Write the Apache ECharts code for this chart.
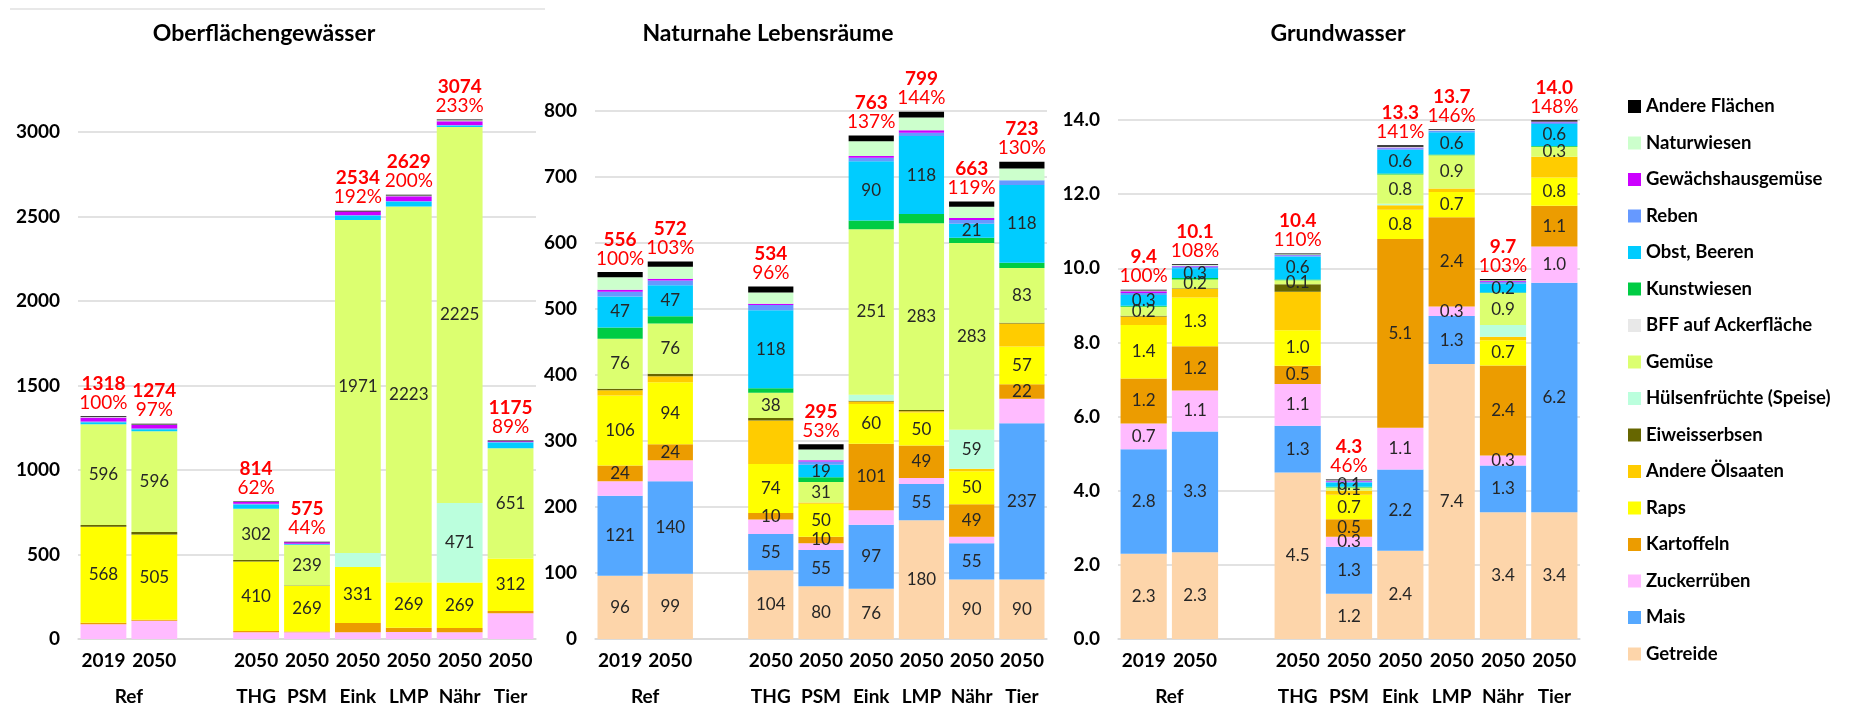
<!DOCTYPE html>
<html>
<head>
<meta charset="utf-8">
<script src="https://cdn.jsdelivr.net/npm/echarts@6/dist/echarts.min.js"></script>
<style>
  html, body { margin: 0; padding: 0; background: #fff; }
  #chart { width: 1865px; height: 707px; }
</style>
</head>
<body>
<div id="chart"></div>
<script>
// Kulturen, von unten nach oben gestapelt
const crops = ['Getreide', 'Mais', 'Zuckerrüben', 'Kartoffeln', 'Raps', 'Andere Ölsaaten',
  'Eiweisserbsen', 'Hülsenfrüchte (Speise)', 'Gemüse', 'BFF auf Ackerfläche', 'Kunstwiesen',
  'Obst, Beeren', 'Reben', 'Gewächshausgemüse', 'Naturwiesen', 'Andere Flächen'];
const cropColors = ['#fdd5aa', '#55a8ff', '#ffbbff', '#ec9c00', '#ffff00', '#ffcc00',
  '#666600', '#bbffdd', '#dcff70', '#e8e8e8', '#00cc44',
  '#00ccff', '#6699ff', '#cc00ff', '#ccffcc', '#000000'];

// x-Achse: 2019, 2050, Lücke, 6 Szenarien
const yearLabels = ['2019', '2050', '', '2050', '2050', '2050', '2050', '2050', '2050'];
const groupLabels = ['', '', 'Ref', '', '', '', '', 'THG', '', 'PSM', '', 'Eink', '', 'LMP', '', 'Nähr', '', 'Tier', ''];

// Oberflächengewässer (Zeilen = crops, Spalten = 2019, 2050, THG, PSM, Eink, LMP, Nähr, Tier)
const owValues = [
  [0, 0, 0, 0, 0, 0, 0, 0],
  [0, 0, 0, 0, 0, 0, 0, 0],
  [88, 108, 40, 40, 40, 42, 40, 153],
  [8, 6, 8, 5, 55, 25, 25, 12],
  [568, 505, 410, 269, 331, 269, 269, 312],
  [0, 0, 0, 0, 0, 0, 0, 0],
  [10, 14, 10, 3, 0, 0, 0, 0],
  [0, 0, 0, 0, 83, 0, 471, 0],
  [596, 596, 302, 239, 1971, 2223, 2225, 651],
  [0, 0, 0, 0, 0, 0, 0, 0],
  [0, 0, 0, 0, 0, 0, 0, 0],
  [12, 12, 26, 5, 24, 28, 8, 34],
  [5, 4, 5, 3, 5, 5, 4, 3],
  [24, 22, 9, 8, 20, 28, 22, 5],
  [2, 2, 0, 0, 0, 4, 5, 0],
  [5, 5, 4, 3, 5, 5, 5, 5]
];
const owTotals = ['1318', '1274', '814', '575', '2534', '2629', '3074', '1175'];
const owPercent = ['100%', '97%', '62%', '44%', '192%', '200%', '233%', '89%'];

// Naturnahe Lebensräume
const nlValues = [
  [96, 99, 104, 80, 76, 180, 90, 90],
  [121, 140, 55, 55, 97, 55, 55, 237],
  [22, 32, 22, 10, 22, 9, 10, 37],
  [24, 24, 10, 10, 101, 49, 49, 22],
  [106, 94, 74, 50, 60, 50, 50, 57],
  [8, 9, 66, 2, 4, 2, 4, 35],
  [2, 4, 4, 0, 1, 2, 0, 1],
  [0, 0, 0, 0, 9, 0, 59, 0],
  [76, 76, 38, 31, 251, 283, 283, 83],
  [0, 0, 0, 0, 0, 0, 0, 0],
  [17, 11, 7, 7, 13, 14, 8, 8],
  [47, 47, 118, 19, 90, 118, 21, 118],
  [7, 7, 8, 5, 5, 5, 6, 7],
  [3, 3, 2, 2, 3, 4, 3, 0],
  [19, 18, 17, 16, 22, 19, 17, 18],
  [8, 8, 9, 8, 9, 9, 8, 10]
];
const nlTotals = ['556', '572', '534', '295', '763', '799', '663', '723'];
const nlPercent = ['100%', '103%', '96%', '53%', '137%', '144%', '119%', '130%'];

// Grundwasser
const gwValues = [
  [2.3, 2.34, 4.49, 1.22, 2.38, 7.42, 3.42, 3.42],
  [2.82, 3.26, 1.26, 1.27, 2.19, 1.29, 1.26, 6.19],
  [0.69, 1.1, 1.13, 0.27, 1.13, 0.26, 0.27, 0.98],
  [1.22, 1.2, 0.49, 0.47, 5.09, 2.41, 2.43, 1.1],
  [1.44, 1.31, 0.96, 0.66, 0.79, 0.68, 0.68, 0.76],
  [0.23, 0.24, 1.04, 0.11, 0.12, 0.09, 0.09, 0.56],
  [0.02, 0.01, 0.2, 0, 0, 0, 0, 0],
  [0, 0, 0, 0, 0.04, 0, 0.32, 0],
  [0.24, 0.24, 0.11, 0.09, 0.79, 0.9, 0.86, 0.27],
  [0, 0, 0, 0, 0, 0, 0, 0],
  [0.03, 0.04, 0.02, 0.02, 0.03, 0.02, 0.02, 0.02],
  [0.29, 0.26, 0.62, 0.11, 0.64, 0.6, 0.23, 0.59],
  [0.05, 0.05, 0.03, 0.03, 0.04, 0.04, 0.06, 0.05],
  [0.05, 0.02, 0.01, 0.02, 0.02, 0.01, 0.02, 0.01],
  [0.02, 0.02, 0.02, 0.01, 0.02, 0.01, 0.02, 0.01],
  [0.02, 0.02, 0.02, 0.02, 0.04, 0.02, 0.03, 0.03]
];
const gwTotals = ['9.4', '10.1', '10.4', '4.3', '13.3', '13.7', '9.7', '14.0'];
const gwPercent = ['100%', '108%', '110%', '46%', '141%', '146%', '103%', '148%'];

const FONT = 'Lato, "Open Sans", sans-serif';

const panels = [
  { title: 'Oberflächengewässer', titleX: 264, values: owValues, totals: owTotals, percent: owPercent,
    grid: { left: 78, top: 132, width: 458, height: 507 }, max: 3000, interval: 500, digits: 0,
    labelled: ['Raps', 'Hülsenfrüchte (Speise)', 'Gemüse'], minLabel: 100 },
  { title: 'Naturnahe Lebensräume', titleX: 768, values: nlValues, totals: nlTotals, percent: nlPercent,
    grid: { left: 595, top: 111, width: 452, height: 528 }, max: 800, interval: 100, digits: 0,
    labelled: ['Getreide', 'Mais', 'Kartoffeln', 'Raps', 'Hülsenfrüchte (Speise)', 'Gemüse', 'Obst, Beeren'], minLabel: 10 },
  { title: 'Grundwasser', titleX: 1338, values: gwValues, totals: gwTotals, percent: gwPercent,
    grid: { left: 1118, top: 120, width: 462, height: 519 }, max: 14, interval: 2, digits: 1,
    labelled: ['Getreide', 'Mais', 'Zuckerrüben', 'Kartoffeln', 'Raps', 'Gemüse', 'Obst, Beeren'], minLabel: 0.05 }
];

function withGap(arr) {
  return [arr[0], arr[1], '-'].concat(arr.slice(2));
}

const axisFont = { fontFamily: FONT, fontWeight: 'bold', fontSize: 19, color: '#000' };

let grids = [], xAxes = [], yAxes = [], titles = [], series = [];

panels.forEach(function (p, pi) {
  grids.push(p.grid);
  titles.push({
    text: p.title, left: p.titleX, top: 22, textAlign: 'center', padding: 0,
    textStyle: { fontFamily: FONT, fontWeight: 'bold', fontSize: 23, color: '#000' }
  });
  xAxes.push({
    type: 'category', gridIndex: pi, data: yearLabels,
    axisTick: { show: false },
    axisLine: { lineStyle: { color: '#d9d9d9', width: 1.5 } },
    axisLabel: Object.assign({ interval: 0, margin: 12 }, axisFont)
  });
  xAxes.push({
    type: 'category', gridIndex: pi, data: groupLabels, boundaryGap: false,
    position: 'bottom', offset: 36,
    axisTick: { show: false }, axisLine: { show: false }, splitLine: { show: false },
    axisLabel: Object.assign({ interval: 0, margin: 12 }, axisFont)
  });
  yAxes.push({
    type: 'value', gridIndex: pi, min: 0, max: p.max, interval: p.interval,
    axisLine: { show: false }, axisTick: { show: false },
    splitLine: { lineStyle: { color: '#d9d9d9', width: 1.5 } },
    axisLabel: Object.assign({
      margin: 18,
      formatter: function (v) { return v.toFixed(p.digits); }
    }, axisFont)
  });

  crops.forEach(function (crop, ci) {
    const isTop = ci === crops.length - 1;
    const showVal = p.labelled.indexOf(crop) >= 0;
    let label;
    if (isTop) {
      // Summe und Anteil an 2019 über dem Balken
      label = {
        show: true, position: 'top', distance: 4,
        formatter: function (d) {
          const i = d.dataIndex > 2 ? d.dataIndex - 1 : d.dataIndex;
          return '{t|' + p.totals[i] + '}\n{p|' + p.percent[i] + '}';
        },
        rich: {
          t: { fontFamily: FONT, fontWeight: 'bold', fontSize: 19, color: '#ff0000', lineHeight: 19 },
          p: { fontFamily: FONT, fontSize: 19, color: '#ff0000', lineHeight: 19 }
        }
      };
    } else {
      label = {
        show: showVal, position: 'inside',
        fontFamily: FONT, fontSize: 17, color: '#262626', textBorderWidth: 0,
        formatter: function (d) {
          return d.value >= p.minLabel ? d.value.toFixed(p.digits) : '';
        }
      };
    }
    series.push({
      name: crop, type: 'bar', stack: 'p' + pi,
      xAxisIndex: pi * 2, yAxisIndex: pi,
      barWidth: '90%', clip: false,
      itemStyle: { color: cropColors[ci] },
      label: label,
      data: withGap(p.values[ci])
    });
  });
});

const chart = echarts.init(document.getElementById('chart'));
chart.setOption({
  animation: false,
  backgroundColor: '#fff',
  title: titles,
  grid: grids,
  xAxis: xAxes,
  yAxis: yAxes,
  graphic: [{
    type: 'line', shape: { x1: 10, y1: 9, x2: 545, y2: 9 },
    style: { stroke: '#e0e0e0', lineWidth: 1.5 }
  }],
  legend: {
    orient: 'vertical', left: 1623, top: 92,
    icon: 'rect', itemWidth: 13, itemHeight: 13, itemGap: 17.5,
    selectedMode: false,
    textStyle: { fontFamily: FONT, fontWeight: 'bold', fontSize: 18.5, color: '#000' },
    data: crops.slice().reverse()
  },
  series: series
});
</script>
</body>
</html>
